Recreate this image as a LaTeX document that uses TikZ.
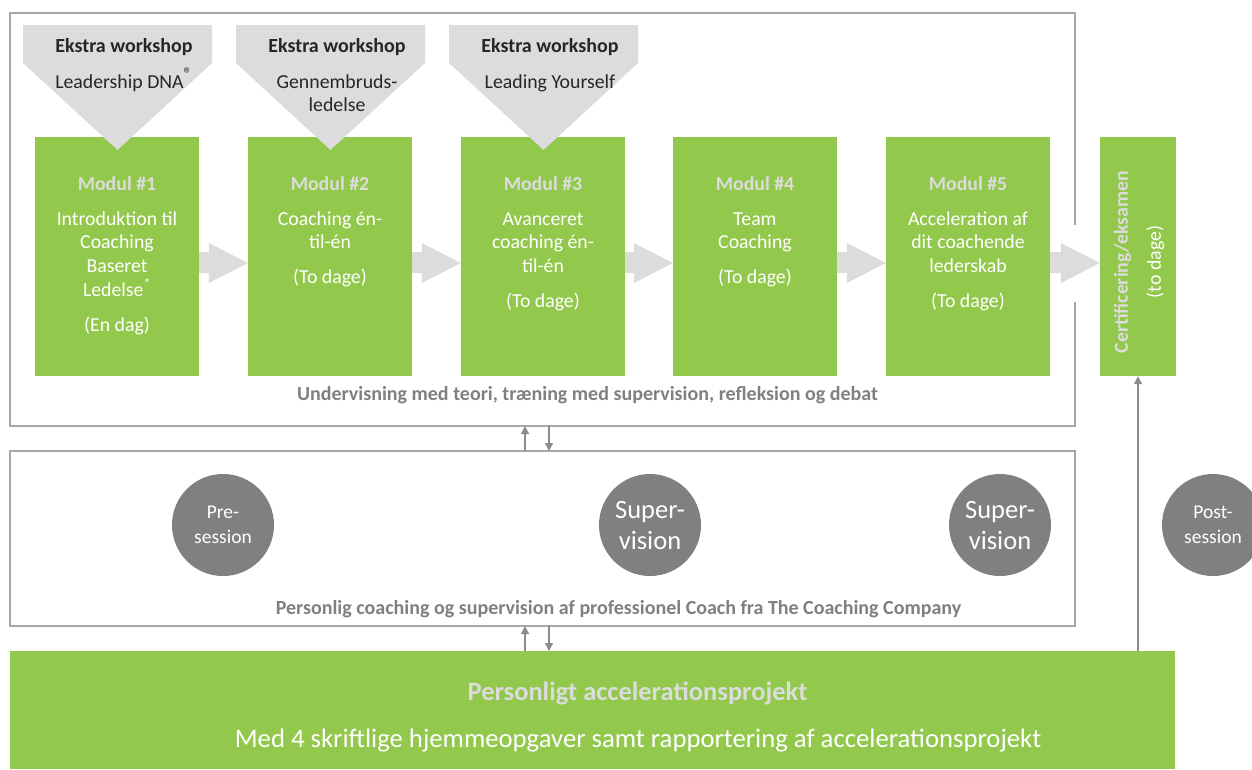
\documentclass[tikz,border=0pt]{standalone}
\usepackage{fontspec}
\setmainfont{Carlito}
\usetikzlibrary{arrows.meta,calc}
\definecolor{grn}{HTML}{92C84B}
\definecolor{hdr}{HTML}{DCDCDC}
\definecolor{pent}{HTML}{DCDCDC}
\definecolor{blk}{HTML}{DCDCDC}
\definecolor{framec}{HTML}{A6A6A6}
\definecolor{circ}{HTML}{808080}
\definecolor{lbl}{HTML}{808080}
\definecolor{dark}{HTML}{262626}
\definecolor{arr}{HTML}{8C8C8C}
\tikzset{
  modbox/.style={fill=grn,draw=none,minimum width=164,minimum height=239,inner sep=0},
  modtxt/.style={anchor=north,align=center,inner sep=0,text=white,font=\fontsize{19.8}{23.8}\selectfont},
  pentxt/.style={anchor=north,align=center,inner sep=0,text=dark,font=\fontsize{19.8}{23.8}\selectfont},
  frame/.style={draw=framec,line width=1.2},
  frametxt/.style={text=lbl,font=\fontsize{20}{24}\selectfont\bfseries,inner sep=0},
  sess/.style={circle,fill=circ,minimum size=102,inner sep=0,text=white,align=center},
  smallarr/.style={draw=arr,line width=1.2,-{Triangle[length=8,width=8]}},
}
\begin{document}
\begin{tikzpicture}[x=1pt,y=-1pt]
\useasboundingbox (0,0) rectangle (1252,769);
\fill[white] (0,0) rectangle (1252,769);
% frames
\draw[frame] (1075,225) -- (1075,13) -- (10,13) -- (10,426) -- (1075,426) -- (1075,302);
\draw[frame] (10,451) rectangle (1075,626);
% modules
\node[modbox] (m1) at (117,256.5) {};
\node[modbox] (m2) at (330,256.5) {};
\node[modbox] (m3) at (543,256.5) {};
\node[modbox] (m4) at (755,256.5) {};
\node[modbox] (m5) at (968,256.5) {};
\node[fill=grn,minimum width=76,minimum height=239,inner sep=0] (cert) at (1138,256.5) {};
% module texts
\node[modtxt] (t1) at (117,176) {{\bfseries\color{hdr}Modul \#1}\\[11.2pt]Introduktion til\\Coaching\\Baseret\\Ledelse\textsuperscript{*}\\[11.2pt](En dag)};
\node[modtxt] (t2) at (330,176) {{\bfseries\color{hdr}Modul \#2}\\[11.2pt]Coaching én-\\til-én\\[11.2pt](To dage)};
\node[modtxt] (t3) at (543,176) {{\bfseries\color{hdr}Modul \#3}\\[11.2pt]Avanceret\\coaching én-\\til-én\\[11.2pt](To dage)};
\node[modtxt] (t4) at (755,176) {{\bfseries\color{hdr}Modul \#4}\\[11.2pt]Team\\Coaching\\[11.2pt](To dage)};
\node[modtxt] (t5) at (968,176) {{\bfseries\color{hdr}Modul \#5}\\[11.2pt]Acceleration af\\dit coachende\\lederskab\\[11.2pt](To dage)};
\node[rotate=90,align=center,inner sep=0,text=white,font=\fontsize{19.8}{24}\selectfont] (ct) at (1139,262)
  {{\bfseries\color{hdr}Certificering/eksamen}\\[9pt](to dage)};
% workshop pentagons
\foreach \px/\nm in {23/p1,236/p2,449/p3}{
  \fill[pent] (\px,25) -- ({\px+189},25) -- ({\px+189},63) -- ({\px+94.5},150) -- (\px,63) -- cycle;
}
\node[pentxt] (w1) at (124,38) {{\fontsize{20}{24}\selectfont\bfseries Ekstra workshop}\\[12pt]Leadership DNA{\fontsize{24}{24}\selectfont\textsuperscript{®}}};
\node[pentxt] (w2) at (337,38) {{\fontsize{20}{24}\selectfont\bfseries Ekstra workshop}\\[12pt]Gennembruds-\\ledelse};
\node[pentxt] (w3) at (550,38) {{\fontsize{20}{24}\selectfont\bfseries Ekstra workshop}\\[12pt]Leading Yourself};
% block arrows
\foreach \a/\b in {m1/m2,m2/m3,m3/m4,m4/m5,m5/cert}{
  \fill[blk] let \p1=(\a.east), \p2=(\b.west) in
    (\x1,252) -- ({\x2-39pt},252) -- ({\x2-39pt},243) -- (\x2,263) -- ({\x2-39pt},283) -- ({\x2-39pt},273) -- (\x1,273) -- cycle;
}
\node[frametxt] (lab1) at (587.5,395) {Undervisning med teori, træning med supervision, refleksion og debat};
% sessions
\node[sess,font=\fontsize{19.5}{25}\selectfont] (pre) at (223,525) {Pre-\\session};
\node[sess,font=\fontsize{26.5}{31}\selectfont] (sv1) at (650,525) {Super-\\vision};
\node[sess,font=\fontsize{26.5}{31}\selectfont] (sv2) at (1000,525) {Super-\\vision};
\node[sess,font=\fontsize{19.5}{25}\selectfont] (post) at (1213,525) {Post-\\session};
\node[frametxt] (lab2) at (618.5,609) {Personlig coaching og supervision af professionel Coach fra The Coaching Company};
% bottom bar
\node[fill=grn,minimum width=1165,minimum height=118,inner sep=0] (bar) at (592.5,710) {};
\node[text=hdr,font=\fontsize{26.5}{30}\selectfont\bfseries,inner sep=0] (bt1) at (637.5,693) {Personligt accelerationsprojekt};
\node[text=white,font=\fontsize{26.7}{30}\selectfont,inner sep=0] (bt2) at (638,741) {Med 4 skriftlige hjemmeopgaver samt rapportering af accelerationsprojekt};
% small arrows
\coordinate (a1) at (525,451); \coordinate (a1e) at (525,426);
\coordinate (a2) at (549,426); \coordinate (a2e) at (549,451);
\coordinate (a3) at (525,651); \coordinate (a3e) at (525,626);
\coordinate (a4) at (549,626); \coordinate (a4e) at (549,651);
\draw[smallarr] (a1) -- (a1e);
\draw[smallarr] (a2) -- (a2e);
\draw[smallarr] (a3) -- (a3e);
\draw[smallarr] (a4) -- (a4e);
\draw[smallarr] (bar.north -| cert) -- (cert.south);
\end{tikzpicture}
\end{document}
